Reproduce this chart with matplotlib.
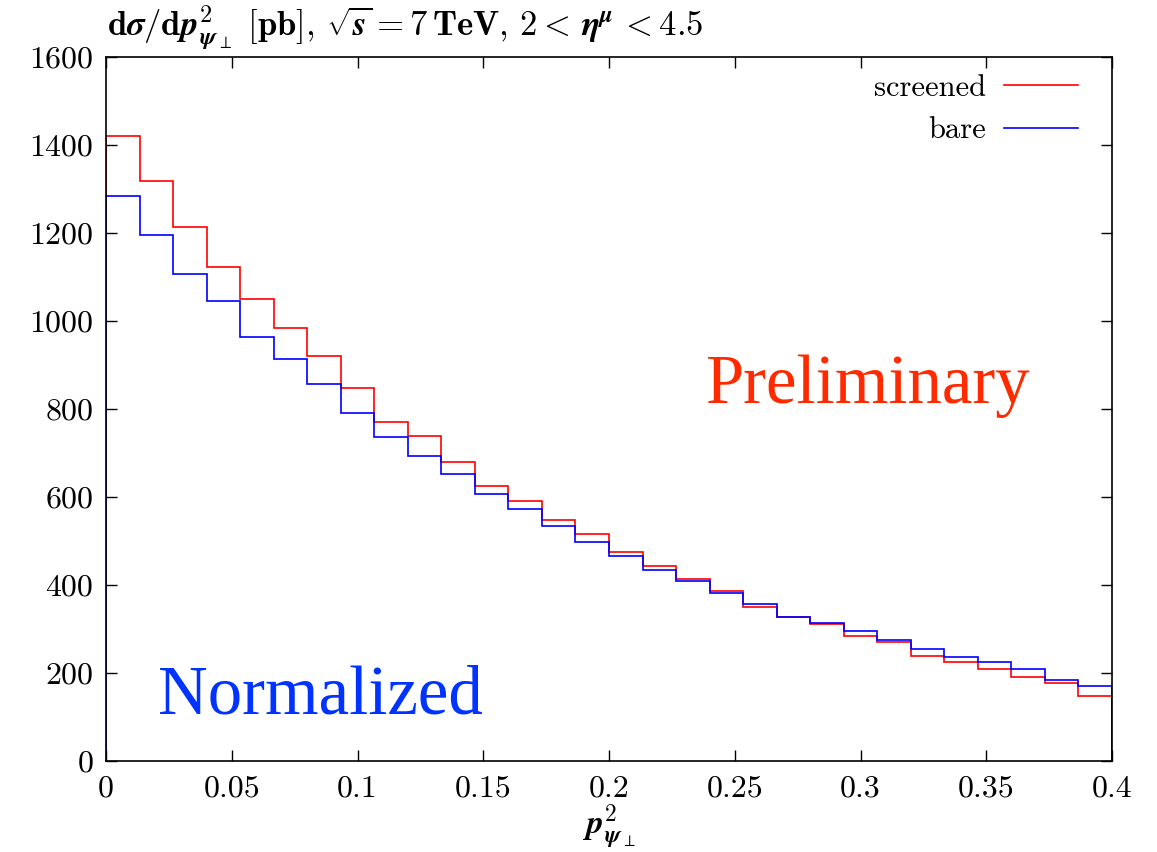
import numpy as np
import matplotlib
matplotlib.use("Agg")
import matplotlib.pyplot as plt

# Data: 30 bins from 0 to 0.4
bin_edges = np.linspace(0.0, 0.4, 31)
screened = [1420, 1318, 1214, 1123, 1050, 985, 920, 847, 771, 739,
            680, 626, 590, 548, 516, 475, 444, 414, 386, 349,
            328, 311, 283, 271, 239, 224, 210, 192, 177, 147]
bare = [1283, 1195, 1107, 1045, 963, 914, 856, 791, 737, 694,
        652, 606, 572, 533, 498, 467, 433, 408, 382, 357,
        328, 313, 295, 275, 254, 237, 224, 210, 184, 170]
xticks = [0, 0.05, 0.1, 0.15, 0.2, 0.25, 0.3, 0.35, 0.4]
xtick_labels = ["0", "0.05", "0.1", "0.15", "0.2", "0.25", "0.3", "0.35", "0.4"]
yticks = [0, 200, 400, 600, 800, 1000, 1200, 1400, 1600]

plt.rcParams['font.family'] = ['cmr10']
plt.rcParams['mathtext.fontset'] = 'cm'
plt.rcParams['axes.formatter.use_mathtext'] = True

W, H = 1157, 852
fig = plt.figure(figsize=(W / 100, H / 100), dpi=100)
ax = fig.add_axes([106 / W, (H - 761) / H, 1006 / W, 704 / H])

ax.stairs(screened, bin_edges, baseline=0, color='#ff0000', lw=1.2, label='screened')
ax.stairs(bare, bin_edges, baseline=0, color='#0000ff', lw=1.2, label='bare')

ax.set_xlim(0, 0.4)
ax.set_ylim(0, 1600)
ax.set_xticks(xticks)
ax.set_xticklabels(xtick_labels)
ax.set_yticks(yticks)
ax.set_yticklabels([str(v) for v in yticks])
ax.tick_params(direction='in', top=True, right=True, length=8, width=1,
               labelsize=23, pad=9)
ax.tick_params(axis='x', pad=10)
for s in ax.spines.values():
    s.set_linewidth(1.2)

ax.set_xlabel(r'$\mathbfit{p}^{\mathbf{2}}_{\mathbfit{\psi}_\perp}$', fontsize=24, labelpad=0)

fig.text(107 / W, 1 - 28 / H,
         r'$\mathbf{d}\mathbfit{\sigma}\mathbf{/d}\mathbfit{p}^{\mathbf{2}}_{\mathbfit{\psi}_\perp}\ \mathbf{[pb]},\,'
         r'\sqrt{\mathbfit{s}} \mathbf{=7\,TeV},\,\mathbf{2<}\,\mathbfit{\eta}^{\mathbfit{\mu}}\,\mathbf{<4.5}$',
         fontsize=25, ha='left', va='center')

leg = ax.legend(loc='upper right', markerfirst=False, frameon=False,
                fontsize=22, handlelength=2.4, handletextpad=0.6,
                borderaxespad=0.0, labelspacing=0.5,
                bbox_to_anchor=(1090 / W, 1 - 62 / H),
                bbox_transform=fig.transFigure)

ax.text(705, 403, 'Preliminary', transform=None, fontsize=49.5,
        family='Liberation Serif', color='#ff2a00', ha='left', va='baseline')
ax.text(158, 713, 'Normalized', transform=None, fontsize=49.5,
        family='Liberation Serif', color='#0033ff', ha='left', va='baseline')

for t in ax.texts:
    x, y = t.get_position()
    t.set_position((x, H - y))

fig.savefig('out.png', dpi=100)
